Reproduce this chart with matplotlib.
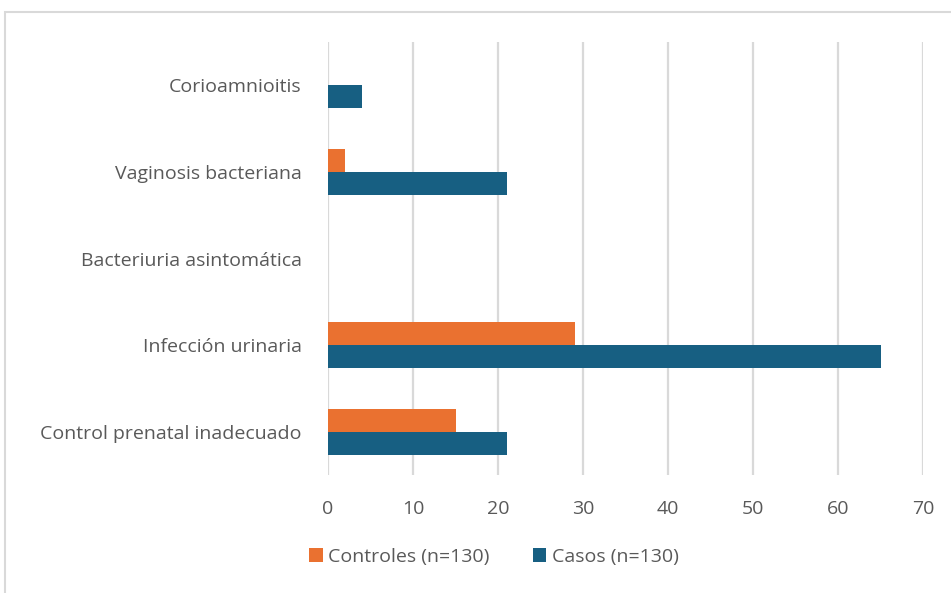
import numpy as np
import matplotlib.pyplot as plt
from matplotlib.patches import Rectangle

categories = ["Control prenatal inadecuado", "Infección urinaria", "Bacteriuria asintomática",
              "Vaginosis bacteriana", "Corioamnioitis"]
controles = [15, 29, 0, 2, 0]
casos = [21, 65, 0, 21, 4]
xticks = [0, 10, 20, 30, 40, 50, 60, 70]

orange = "#ea7130"
blue = "#175f82"
grid = "#d9d9d9"
txt = "#595959"

plt.rcParams['font.family'] = ['Open Sans', 'DejaVu Sans']

fig = plt.figure(figsize=(9.51, 5.93), dpi=100)
ax = fig.add_axes([0.345, 0.199, 0.626, 0.730])

y = np.arange(len(categories))
h = 0.266
ax.barh(y + h / 2, controles, height=h, color=orange, label="Controles (n=130)", zorder=3)
ax.barh(y - h / 2, casos, height=h, color=blue, label="Casos (n=130)", zorder=3)

ax.set_ylim(-0.5, len(categories) - 0.5)
ax.set_xlim(0, 70)
ax.set_xticks(xticks)
ax.set_yticks(y)
ax.set_yticklabels(categories)
ax.xaxis.grid(True, color=grid, linewidth=1.6, zorder=0)
for s in ax.spines.values():
    s.set_visible(False)
ax.tick_params(length=0, labelsize=14, colors=txt)
ax.tick_params(axis='x', pad=18)
ax.tick_params(axis='y', pad=19)

ax.legend(loc='center', bbox_to_anchor=(494 / 951, 1 - 557 / 593), bbox_transform=fig.transFigure,
          ncol=2, frameon=False, fontsize=14, labelcolor=txt, handlelength=0.7, handleheight=0.7,
          handletextpad=0.3, columnspacing=2.2)

fig.patches.append(Rectangle((5 / 951, -0.1), 1.1, 1 - 12 / 593 + 0.1, transform=fig.transFigure,
                             fill=False, edgecolor=grid, linewidth=1.5))

fig.savefig("out.png", dpi=100)
